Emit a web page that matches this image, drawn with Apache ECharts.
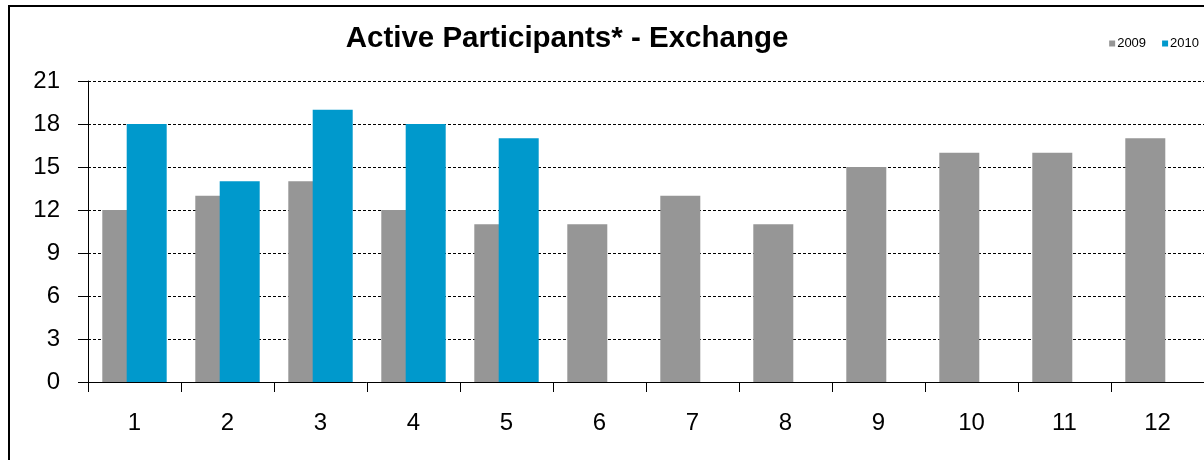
<!DOCTYPE html>
<html>
<head>
<meta charset="utf-8">
<script src="https://cdn.jsdelivr.net/npm/echarts@6/dist/echarts.min.js"></script>
<style>
  html, body { margin: 0; padding: 0; background: #fff; }
  #main { width: 1204px; height: 460px; }
</style>
</head>
<body>
<div id="main"></div>
<script>
// 数据
var months = ['1', '2', '3', '4', '5', '6', '7', '8', '9', '10', '11', '12'];
var values2009 = [12, 13, 14, 12, 11, 11, 13, 11, 15, 16, 16, 17];
var values2010 = [18, 14, 19, 18, 17];
var yTicks = { min: 0, max: 21, interval: 3 };

var font = '"Liberation Sans", Arial, sans-serif';
var myChart = echarts.init(document.getElementById('main'));

myChart.setOption({
  animation: false,
  title: {
    text: 'Active Participants* - Exchange',
    left: 562, top: 19,
    textAlign: 'center',
    textStyle: { fontFamily: font, fontSize: 29.5, fontWeight: 'bold', color: '#000' }
  },
  legend: {
    data: ['2009', '2010'],
    right: 5, top: 37, padding: 0,
    itemWidth: 6, itemHeight: 6, itemGap: 16,
    icon: 'rect',
    textStyle: { fontFamily: font, fontSize: 13, color: '#000', padding: [0, 0, 0, -3] }
  },
  grid: { left: 88, right: 0, top: 81, bottom: 78 },
  xAxis: {
    type: 'category',
    data: months,
    axisLine: { lineStyle: { color: '#000', width: 1 } },
    axisTick: { show: true, length: 10, lineStyle: { color: '#000' } },
    axisLabel: { fontFamily: font, fontSize: 24, color: '#000', margin: 29 }
  },
  yAxis: {
    type: 'value',
    min: yTicks.min, max: yTicks.max, interval: yTicks.interval,
    axisLine: { show: true, lineStyle: { color: '#000', width: 1 } },
    axisTick: { show: true, length: 10, lineStyle: { color: '#000' } },
    axisLabel: { fontFamily: font, fontSize: 24, color: '#000', margin: 28 },
    splitLine: { lineStyle: { color: '#000', type: [3, 2], width: 1 } }
  },
  series: [
    {
      name: '2009', type: 'bar', data: values2009,
      barWidth: 40, barGap: '-39%',
      itemStyle: { color: '#969696' }
    },
    {
      name: '2010', type: 'bar', data: values2010,
      barWidth: 40,
      itemStyle: { color: '#0099CC' }
    }
  ],
  graphic: [{
    type: 'rect',
    shape: { x: 9, y: 6, width: 1300, height: 600 },
    style: { fill: null, stroke: '#000', lineWidth: 2 },
    silent: true
  }]
});
</script>
</body>
</html>
